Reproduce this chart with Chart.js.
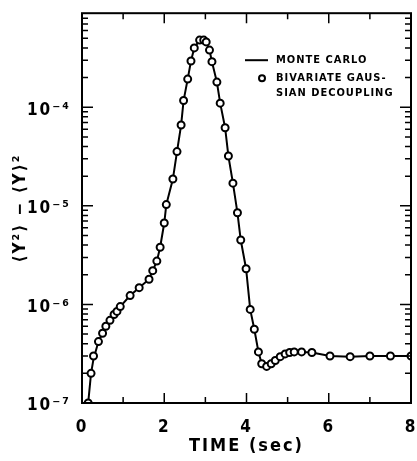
<!DOCTYPE html>
<html>
<head>
<meta charset="utf-8">
<script src="https://cdn.jsdelivr.net/npm/chart.js@4/dist/chart.umd.min.js"></script>
<style>
  html, body { margin: 0; padding: 0; background: #fff; }
</style>
</head>
<body>
<canvas id="chart" width="417" height="461"></canvas>
<script>
// Time (sec) of the plotted samples
const timeSec = [
  0.15, 0.22, 0.28, 0.40, 0.50, 0.58, 0.68, 0.78, 0.85, 0.93,
  1.17, 1.39, 1.63, 1.72, 1.82, 1.90, 2.00, 2.05, 2.21, 2.31,
  2.41, 2.47, 2.57, 2.65, 2.73, 2.86, 2.96, 3.02, 3.10, 3.16,
  3.28, 3.36, 3.48, 3.56, 3.67, 3.78, 3.86, 3.99, 4.09, 4.19,
  4.29, 4.37, 4.49, 4.60, 4.70, 4.82, 4.94, 5.05, 5.16, 5.34,
  5.59, 6.03, 6.52, 7.00, 7.50, 8.00
];

// <Y^2> - <Y>^2, Monte Carlo curve
const monteCarlo = [
  1.0e-7, 2.0e-7, 2.8e-7, 4.2e-7, 5.1e-7, 6.0e-7, 6.9e-7, 7.9e-7, 8.5e-7, 9.5e-7,
  1.23e-6, 1.48e-6, 1.8e-6, 2.2e-6, 2.75e-6, 3.8e-6, 6.7e-6, 1.03e-5, 1.87e-5, 3.55e-5,
  6.6e-5, 1.17e-4, 1.93e-4, 2.95e-4, 4.0e-4, 4.8e-4, 4.8e-4, 4.6e-4, 3.8e-4, 2.9e-4,
  1.8e-4, 1.1e-4, 6.2e-5, 3.2e-5, 1.7e-5, 8.5e-6, 4.5e-6, 2.3e-6, 8.9e-7, 5.6e-7,
  3.3e-7, 2.5e-7, 2.35e-7, 2.5e-7, 2.7e-7, 2.95e-7, 3.15e-7, 3.25e-7, 3.3e-7, 3.3e-7,
  3.25e-7, 3.0e-7, 2.95e-7, 3.0e-7, 3.0e-7, 3.0e-7
];

// <Y^2> - <Y>^2, bivariate Gaussian decoupling (open circles)
const gaussDecoupling = [
  1.0e-7, 2.0e-7, 3.0e-7, 4.2e-7, 5.1e-7, 6.0e-7, 6.9e-7, 7.9e-7, 8.5e-7, 9.5e-7,
  1.23e-6, 1.48e-6, 1.8e-6, 2.2e-6, 2.75e-6, 3.8e-6, 6.7e-6, 1.03e-5, 1.87e-5, 3.55e-5,
  6.6e-5, 1.17e-4, 1.93e-4, 2.95e-4, 4.0e-4, 4.8e-4, 4.8e-4, 4.6e-4, 3.8e-4, 2.9e-4,
  1.8e-4, 1.1e-4, 6.2e-5, 3.2e-5, 1.7e-5, 8.5e-6, 4.5e-6, 2.3e-6, 8.9e-7, 5.6e-7,
  3.3e-7, 2.5e-7, 2.35e-7, 2.5e-7, 2.7e-7, 2.95e-7, 3.15e-7, 3.25e-7, 3.3e-7, 3.3e-7,
  3.25e-7, 3.0e-7, 2.95e-7, 3.0e-7, 3.0e-7, 3.0e-7
];

const xTicks = [0, 2, 4, 6, 8];
const yDecades = [1e-7, 1e-6, 1e-5, 1e-4];
const legendLines = ['MONTE CARLO', 'BIVARIATE GAUS-', 'SIAN DECOUPLING'];

const FONT = "'Liberation Sans Narrow', 'DejaVu Sans Condensed', 'Liberation Sans', sans-serif";
const SUP = { '-': '\u207B', '0': '\u2070', '1': '\u00B9', '2': '\u00B2', '3': '\u00B3',
              '4': '\u2074', '5': '\u2075', '6': '\u2076', '7': '\u2077', '8': '\u2078', '9': '\u2079' };

function decadeLabel(v) {
    const exp = String(Math.round(Math.log10(v)));
    return '10' + exp.split('').map(c => SUP[c]).join('');
}

// letter spacing for all chart text (canvas state is reset on resize)
const spacing = {
    id: 'spacing',
    beforeLayout(chart) { chart.ctx.letterSpacing = '2px'; },
    beforeDraw(chart) { chart.ctx.letterSpacing = '2px'; }
};

// plot frame with inward ticks on all four sides
const frameTicks = {
    id: 'frameTicks',
    afterDatasetsDraw(chart) {
        const { ctx, chartArea: a, scales: { x, y } } = chart;
        ctx.save();
        ctx.strokeStyle = '#000';
        ctx.lineWidth = 2;
        ctx.strokeRect(a.left, a.top, a.right - a.left, a.bottom - a.top);

        ctx.lineWidth = 1.5;
        ctx.beginPath();
        for (let t = x.min; t <= x.max; t++) {
            const px = x.getPixelForValue(t);
            const len = t % 2 === 0 ? 10 : 6;
            ctx.moveTo(px, a.bottom); ctx.lineTo(px, a.bottom - len);
            ctx.moveTo(px, a.top); ctx.lineTo(px, a.top + len);
        }
        for (let e = -7; e <= -4; e++) {
            for (let m = 1; m <= 9; m++) {
                const v = m * Math.pow(10, e);
                if (v < y.min || v > y.max) continue;
                const py = y.getPixelForValue(v);
                const len = m === 1 ? 11 : 6;
                ctx.moveTo(a.left, py); ctx.lineTo(a.left + len, py);
                ctx.moveTo(a.right, py); ctx.lineTo(a.right - len, py);
            }
        }
        ctx.stroke();
        ctx.restore();
    }
};

// legend drawn inside the plot, upper right
const insideLegend = {
    id: 'insideLegend',
    afterDraw(chart) {
        const { ctx, chartArea: a } = chart;
        const textX = a.right - 135;
        const rows = [a.top + 47, a.top + 65, a.top + 80];
        ctx.save();
        ctx.fillStyle = '#000';
        ctx.strokeStyle = '#000';
        ctx.font = "bold 11px " + FONT;
        ctx.letterSpacing = '1px';
        ctx.textBaseline = 'middle';
        ctx.textAlign = 'left';

        // line sample
        ctx.lineWidth = 2;
        ctx.beginPath();
        ctx.moveTo(textX - 31, rows[0]);
        ctx.lineTo(textX - 8, rows[0]);
        ctx.stroke();
        // circle sample
        ctx.beginPath();
        ctx.arc(textX - 14, rows[1], 3, 0, Math.PI * 2);
        ctx.fillStyle = '#fff';
        ctx.fill();
        ctx.stroke();

        ctx.fillStyle = '#000';
        legendLines.forEach((txt, i) => ctx.fillText(txt, textX, rows[i]));
        ctx.restore();
    }
};

new Chart(document.getElementById('chart'), {
    type: 'scatter',
    data: {
        datasets: [{
            label: 'BIVARIATE GAUSSIAN DECOUPLING',
            data: timeSec.map((t, i) => ({ x: t, y: gaussDecoupling[i] })),
            showLine: false,
            pointRadius: 3.5,
            pointBorderWidth: 2,
            pointBorderColor: '#000',
            pointBackgroundColor: '#fff'
        }, {
            label: 'MONTE CARLO',
            data: timeSec.map((t, i) => ({ x: t, y: monteCarlo[i] })),
            showLine: true,
            borderColor: '#000',
            borderWidth: 2,
            tension: 0,
            pointRadius: 0
        }]
    },
    options: {
        responsive: false,
        animation: false,
        layout: { padding: { top: 6, right: 6, bottom: 0, left: 0 } },
        plugins: {
            legend: { display: false },
            tooltip: { enabled: false }
        },
        scales: {
            x: {
                type: 'linear',
                min: 0,
                max: 8,
                afterBuildTicks: (s) => { s.ticks = xTicks.map(v => ({ value: v })); },
                afterFit: (s) => { s.height = 58; s.paddingRight = 0; s.paddingLeft = 0; },
                grid: { display: false },
                border: { display: false },
                ticks: {
                    color: '#000',
                    padding: 6,
                    maxRotation: 0,
                    font: { family: FONT, size: 17, weight: 'bold' }
                },
                title: {
                    display: true,
                    text: 'TIME (sec)',
                    color: '#000',
                    font: { family: FONT, size: 18, weight: 'bold' },
                    padding: { top: 0, bottom: 4 }
                }
            },
            y: {
                type: 'logarithmic',
                min: 1e-7,
                max: 9e-4,
                afterBuildTicks: (s) => { s.ticks = yDecades.map(v => ({ value: v })); },
                afterFit: (s) => { s.width = 82; },
                grid: { display: false },
                border: { display: false },
                ticks: {
                    color: '#000',
                    padding: 3,
                    labelOffset: 3,
                    font: { family: FONT, size: 17, weight: 'bold' },
                    callback: (v) => decadeLabel(v)
                },
                title: {
                    display: true,
                    text: '\u27E8Y\u00B2\u27E9 \u2212 \u27E8Y\u27E9\u00B2',
                    color: '#000',
                    font: { family: FONT, size: 17, weight: 'bold' },
                    padding: { top: 10, bottom: 0 }
                }
            }
        }
    },
    plugins: [spacing, frameTicks, insideLegend]
});
</script>
</body>
</html>
